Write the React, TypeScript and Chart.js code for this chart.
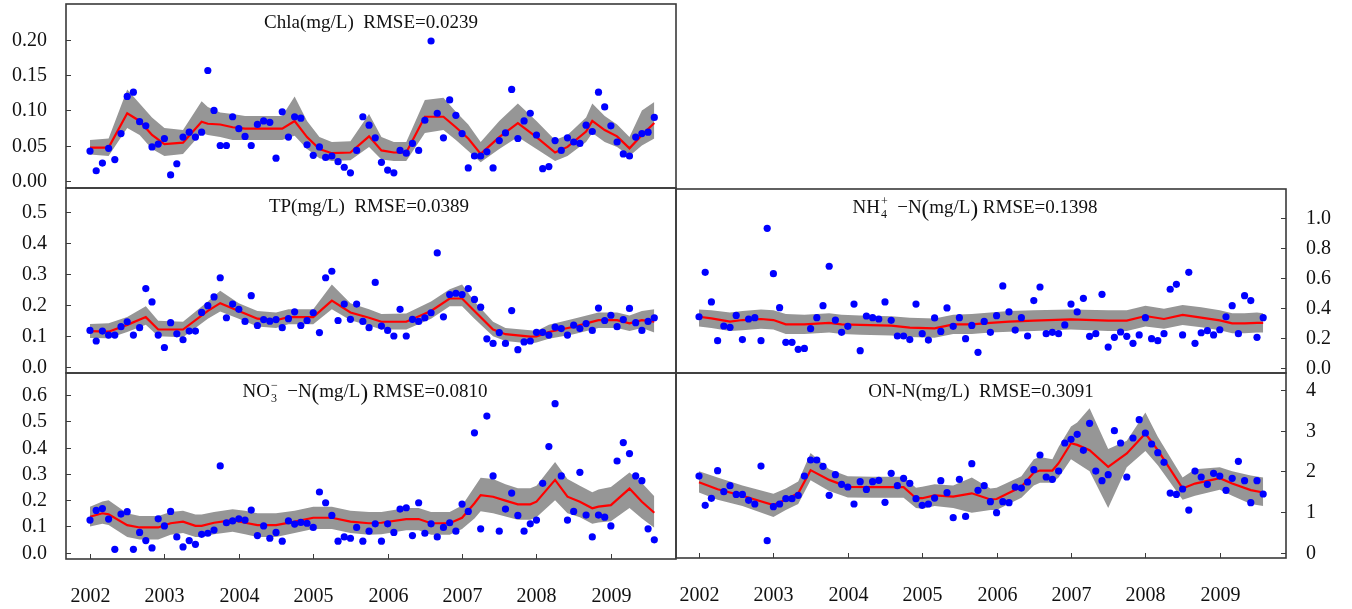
import React, { useEffect, useRef } from 'react';
import { Chart, registerables } from 'chart.js';

Chart.register(...registerables);

const W = 1352;
const H = 609;

// month index 0 = Jan 2002 ... 91 = Aug 2009
const MONTHS = [
  0, 1, 2, 3, 4, 5, 6, 7, 8, 9, 10, 11, 12, 13, 14, 15, 16, 17, 18, 19, 20, 21, 22, 23,
  24, 25, 26, 27, 28, 29, 30, 31, 32, 33, 34, 35, 36, 37, 38, 39, 40, 41, 42, 43, 44, 45, 46, 47,
  48, 49, 50, 51, 52, 53, 54, 55, 56, 57, 58, 59, 60, 61, 62, 63, 64, 65, 66, 67, 68, 69, 70, 71,
  72, 73, 74, 75, 76, 77, 78, 79, 80, 81, 82, 83, 84, 85, 86, 87, 88, 89, 90, 91,
];
const YEAR_LABELS = ['2002', '2003', '2004', '2005', '2006', '2007', '2008', '2009'];
const YEAR_MONTHS = [0, 12, 24, 36, 48, 60, 72, 84];

// ---------- Chla ----------
const CHLA_OBS = [
  0.042, 0.014, 0.025, 0.046, 0.030, 0.067, 0.120, 0.126, 0.084, 0.078, 0.048, 0.052,
  0.060, 0.008, 0.024, 0.062, 0.069, 0.062, 0.069, 0.157, 0.100, 0.050, 0.050, 0.091,
  0.074, 0.063, 0.050, 0.080, 0.085, 0.083, 0.032, 0.098, 0.062, 0.091, 0.089, 0.051,
  0.036, 0.048, 0.033, 0.035, 0.027, 0.019, 0.011, 0.043, 0.091, 0.079, 0.061, 0.026,
  0.015, 0.011, 0.043, 0.039, 0.053, 0.043, 0.086, 0.199, 0.096, 0.061, 0.115, 0.093,
  0.067, 0.018, 0.035, 0.035, 0.041, 0.018, 0.057, 0.068, 0.130, 0.060, 0.085, 0.096,
  0.065, 0.017, 0.020, 0.057, 0.043, 0.061, 0.055, 0.053, 0.079, 0.070, 0.126, 0.105,
  0.078, 0.055, 0.038, 0.035, 0.062, 0.067, 0.069, 0.090,
];
const CHLA_KNOTS = [0, 3, 6, 8, 10, 12, 15, 18, 19, 21, 23, 25, 31, 33, 35, 37, 39, 42, 45, 47, 49, 51, 54, 57, 59, 61, 63, 66, 69, 72, 75, 77, 80, 81, 83, 85, 87, 89, 91];
const CHLA_FIT = [0.047, 0.047, 0.096, 0.085, 0.065, 0.052, 0.054, 0.084, 0.081, 0.080, 0.076, 0.074, 0.074, 0.085, 0.062, 0.045, 0.039, 0.040, 0.063, 0.043, 0.040, 0.040, 0.091, 0.091, 0.076, 0.060, 0.038, 0.062, 0.082, 0.062, 0.040, 0.048, 0.070, 0.085, 0.072, 0.063, 0.046, 0.065, 0.082];
const CHLA_LO = [0.037, 0.035, 0.075, 0.065, 0.045, 0.035, 0.038, 0.068, 0.065, 0.062, 0.058, 0.058, 0.058, 0.064, 0.045, 0.032, 0.028, 0.029, 0.048, 0.030, 0.028, 0.028, 0.068, 0.072, 0.058, 0.042, 0.026, 0.045, 0.062, 0.045, 0.028, 0.035, 0.055, 0.068, 0.055, 0.048, 0.035, 0.050, 0.060];
const CHLA_HI = [0.058, 0.060, 0.130, 0.110, 0.090, 0.075, 0.072, 0.113, 0.105, 0.097, 0.095, 0.092, 0.092, 0.120, 0.085, 0.062, 0.055, 0.056, 0.095, 0.062, 0.055, 0.055, 0.115, 0.118, 0.098, 0.080, 0.055, 0.085, 0.110, 0.085, 0.058, 0.065, 0.090, 0.110, 0.092, 0.080, 0.062, 0.100, 0.112];
const CHLA_TICKS = [0, 0.05, 0.1, 0.15, 0.2];
const CHLA_TICK_LABELS = ['0.00', '0.05', '0.10', '0.15', '0.20'];

// ---------- TP ----------
const TP_OBS = [
  0.117, 0.083, 0.115, 0.102, 0.102, 0.129, 0.145, 0.102, 0.126, 0.252, 0.209, 0.102,
  0.062, 0.142, 0.106, 0.087, 0.115, 0.115, 0.175, 0.197, 0.225, 0.287, 0.158, 0.202,
  0.185, 0.146, 0.229, 0.133, 0.152, 0.147, 0.152, 0.126, 0.155, 0.177, 0.133, 0.149,
  0.174, 0.110, 0.287, 0.308, 0.149, 0.202, 0.153, 0.202, 0.146, 0.126, 0.272, 0.131,
  0.117, 0.099, 0.185, 0.099, 0.153, 0.146, 0.158, 0.174, 0.367, 0.161, 0.233, 0.237,
  0.233, 0.252, 0.217, 0.192, 0.090, 0.075, 0.110, 0.075, 0.181, 0.055, 0.080, 0.083,
  0.111, 0.111, 0.102, 0.128, 0.123, 0.102, 0.134, 0.123, 0.139, 0.117, 0.189, 0.149,
  0.166, 0.129, 0.152, 0.188, 0.142, 0.117, 0.146, 0.158,
];
const TP_KNOTS = [0, 3, 6, 9, 11, 15, 19, 21, 24, 27, 30, 32, 36, 39, 42, 45, 47, 51, 55, 58, 60, 62, 65, 67, 71, 72, 74, 78, 82, 85, 87, 89, 91];
const TP_FIT = [0.115, 0.113, 0.135, 0.160, 0.120, 0.120, 0.180, 0.205, 0.180, 0.155, 0.150, 0.160, 0.160, 0.213, 0.175, 0.158, 0.145, 0.145, 0.180, 0.220, 0.220, 0.180, 0.120, 0.105, 0.097, 0.098, 0.112, 0.129, 0.150, 0.150, 0.140, 0.150, 0.145];
const TP_LO = [0.093, 0.092, 0.112, 0.135, 0.098, 0.095, 0.155, 0.178, 0.155, 0.130, 0.125, 0.137, 0.137, 0.185, 0.150, 0.133, 0.120, 0.120, 0.155, 0.195, 0.195, 0.155, 0.098, 0.083, 0.075, 0.078, 0.090, 0.105, 0.125, 0.125, 0.115, 0.125, 0.110];
const TP_HI = [0.138, 0.140, 0.160, 0.195, 0.148, 0.145, 0.210, 0.245, 0.205, 0.180, 0.175, 0.185, 0.185, 0.265, 0.205, 0.185, 0.170, 0.172, 0.210, 0.250, 0.265, 0.210, 0.145, 0.125, 0.118, 0.115, 0.135, 0.155, 0.175, 0.175, 0.165, 0.180, 0.185];
const TP_TICKS = [0, 0.1, 0.2, 0.3, 0.4, 0.5];
const TP_TICK_LABELS = ['0.0', '0.1', '0.2', '0.3', '0.4', '0.5'];

// ---------- NH4+-N ----------
const NH4_OBS = [
  0.341, 0.638, 0.440, 0.181, 0.279, 0.270, 0.350, 0.188, 0.326, 0.335, 0.181, 0.933,
  0.629, 0.402, 0.170, 0.170, 0.123, 0.129, 0.261, 0.335, 0.415, 0.679, 0.319, 0.237,
  0.277, 0.426, 0.114, 0.346, 0.335, 0.326, 0.440, 0.317, 0.212, 0.212, 0.188, 0.426,
  0.228, 0.185, 0.333, 0.243, 0.400, 0.277, 0.335, 0.194, 0.283, 0.103, 0.310, 0.237,
  0.348, 0.547, 0.373, 0.252, 0.335, 0.212, 0.449, 0.540, 0.228, 0.237, 0.228, 0.286,
  0.426, 0.373, 0.464, 0.210, 0.228, 0.491, 0.138, 0.203, 0.239, 0.210, 0.163, 0.219,
  0.335, 0.194, 0.181, 0.228, 0.525, 0.558, 0.219, 0.638, 0.163, 0.234, 0.248, 0.219,
  0.254, 0.341, 0.415, 0.228, 0.482, 0.449, 0.203, 0.335,
];
const NH4_KNOTS = [0, 2, 5, 7, 10, 12, 14, 17, 21, 23, 26, 31, 34, 38, 41, 44, 47, 50, 54, 60, 66, 69, 72, 75, 78, 81, 84, 86, 88, 90, 91];
const NH4_FIT = [0.341, 0.330, 0.308, 0.319, 0.326, 0.319, 0.290, 0.290, 0.300, 0.290, 0.286, 0.281, 0.268, 0.263, 0.290, 0.290, 0.300, 0.308, 0.315, 0.324, 0.315, 0.315, 0.346, 0.326, 0.353, 0.335, 0.317, 0.297, 0.297, 0.300, 0.300];
const NH4_LO = [0.275, 0.265, 0.245, 0.250, 0.260, 0.255, 0.225, 0.225, 0.235, 0.225, 0.220, 0.215, 0.205, 0.200, 0.225, 0.225, 0.235, 0.240, 0.245, 0.255, 0.245, 0.245, 0.275, 0.260, 0.285, 0.270, 0.250, 0.230, 0.230, 0.235, 0.235];
const NH4_HI = [0.390, 0.385, 0.370, 0.380, 0.390, 0.385, 0.360, 0.355, 0.365, 0.355, 0.350, 0.345, 0.335, 0.330, 0.355, 0.360, 0.370, 0.380, 0.385, 0.390, 0.385, 0.385, 0.415, 0.395, 0.420, 0.405, 0.385, 0.365, 0.365, 0.370, 0.365];
const NH4_TICKS = [0, 0.2, 0.4, 0.6, 0.8, 1.0];
const NH4_TICK_LABELS = ['0.0', '0.2', '0.4', '0.6', '0.8', '1.0'];

// ---------- NO3--N ----------
const NO3_OBS = [
  0.124, 0.161, 0.168, 0.128, 0.013, 0.147, 0.156, 0.013, 0.077, 0.046, 0.018, 0.129,
  0.102, 0.157, 0.060, 0.022, 0.046, 0.032, 0.070, 0.074, 0.086, 0.330, 0.114, 0.121,
  0.129, 0.124, 0.162, 0.065, 0.102, 0.055, 0.077, 0.044, 0.121, 0.109, 0.115, 0.112,
  0.096, 0.231, 0.190, 0.142, 0.044, 0.060, 0.055, 0.096, 0.044, 0.082, 0.110, 0.044,
  0.110, 0.077, 0.166, 0.171, 0.065, 0.190, 0.074, 0.110, 0.060, 0.096, 0.114, 0.082,
  0.185, 0.157, 0.456, 0.091, 0.520, 0.292, 0.082, 0.166, 0.227, 0.142, 0.082, 0.110,
  0.124, 0.264, 0.404, 0.567, 0.292, 0.124, 0.157, 0.306, 0.143, 0.060, 0.143, 0.135,
  0.102, 0.349, 0.419, 0.377, 0.292, 0.274, 0.091, 0.049,
];
const NO3_KNOTS = [0, 2, 3, 6, 8, 11, 13, 15, 17, 18, 20, 23, 25, 27, 30, 33, 36, 39, 42, 45, 47, 51, 53, 55, 58, 60, 62, 63, 65, 67, 69, 71, 72, 75, 77, 79, 81, 82, 84, 87, 89, 91];
const NO3_FIT = [0.137, 0.150, 0.146, 0.105, 0.096, 0.096, 0.112, 0.118, 0.102, 0.102, 0.114, 0.124, 0.114, 0.105, 0.105, 0.118, 0.133, 0.133, 0.118, 0.112, 0.114, 0.128, 0.128, 0.112, 0.112, 0.133, 0.188, 0.219, 0.213, 0.198, 0.184, 0.184, 0.194, 0.277, 0.213, 0.194, 0.169, 0.175, 0.181, 0.244, 0.194, 0.152];
const NO3_LO = [0.100, 0.110, 0.105, 0.060, 0.050, 0.050, 0.068, 0.075, 0.060, 0.060, 0.070, 0.080, 0.070, 0.060, 0.060, 0.075, 0.090, 0.090, 0.075, 0.068, 0.070, 0.085, 0.085, 0.068, 0.068, 0.090, 0.130, 0.158, 0.150, 0.138, 0.125, 0.125, 0.135, 0.200, 0.150, 0.135, 0.110, 0.115, 0.120, 0.170, 0.130, 0.095];
const NO3_HI = [0.175, 0.195, 0.200, 0.150, 0.140, 0.140, 0.155, 0.160, 0.145, 0.145, 0.155, 0.165, 0.160, 0.150, 0.150, 0.160, 0.175, 0.175, 0.160, 0.155, 0.155, 0.170, 0.170, 0.155, 0.155, 0.180, 0.250, 0.285, 0.280, 0.260, 0.245, 0.245, 0.255, 0.345, 0.280, 0.255, 0.230, 0.240, 0.250, 0.305, 0.265, 0.215];
const NO3_TICKS = [0, 0.1, 0.2, 0.3, 0.4, 0.5, 0.6];
const NO3_TICK_LABELS = ['0.0', '0.1', '0.2', '0.3', '0.4', '0.5', '0.6'];

// ---------- ON-N ----------
const ON_OBS = [
  1.885, 1.164, 1.336, 2.016, 1.500, 1.648, 1.434, 1.434, 1.287, 1.197, 2.131, 0.295,
  1.131, 1.197, 1.328, 1.328, 1.410, 1.885, 2.279, 2.279, 2.123, 1.410, 1.918, 1.680,
  1.615, 1.197, 1.746, 1.557, 1.746, 1.779, 1.238, 1.951, 1.648, 1.828, 1.705, 1.328,
  1.164, 1.197, 1.344, 1.770, 1.475, 0.861, 1.803, 0.893, 2.189, 1.533, 1.648, 1.254,
  0.984, 1.254, 1.230, 1.615, 1.590, 1.738, 2.041, 2.402, 1.861, 1.803, 2.008, 2.697,
  2.787, 2.910, 2.516, 3.180, 2.008, 1.770, 1.918, 3.000, 2.697, 1.861, 2.820, 3.270,
  2.943, 2.672, 2.459, 2.221, 1.467, 1.434, 1.566, 1.049, 2.008, 1.861, 1.680, 1.951,
  1.885, 1.533, 1.828, 2.246, 1.770, 1.230, 1.770, 1.443,
];
const ON_KNOTS = [0, 3, 7, 12, 14, 16, 18, 21, 24, 28, 33, 35, 36, 38, 41, 44, 47, 48, 52, 54, 55, 57, 58, 60, 61, 63, 66, 69, 72, 74, 78, 80, 84, 86, 89, 91];
const ON_FIT = [1.73, 1.56, 1.40, 1.17, 1.31, 1.46, 2.03, 1.79, 1.62, 1.61, 1.61, 1.34, 1.34, 1.41, 1.38, 1.46, 1.31, 1.32, 1.62, 1.97, 2.02, 2.02, 2.20, 2.69, 2.65, 2.52, 2.11, 2.44, 2.93, 2.52, 1.58, 1.70, 1.83, 1.70, 1.54, 1.48];
const ON_LO = [1.48, 1.30, 1.15, 0.88, 1.05, 1.20, 1.78, 1.52, 1.36, 1.35, 1.35, 1.10, 1.08, 1.15, 1.10, 0.98, 1.05, 1.05, 1.35, 1.65, 1.72, 1.72, 1.85, 2.30, 2.20, 2.00, 1.10, 2.10, 2.50, 2.15, 1.30, 1.40, 1.55, 1.40, 1.20, 1.15];
const ON_HI = [2.00, 1.85, 1.65, 1.45, 1.58, 1.75, 2.45, 2.05, 1.88, 1.87, 1.87, 1.60, 1.62, 1.68, 1.65, 1.85, 1.58, 1.60, 1.88, 2.30, 2.35, 2.30, 2.60, 3.10, 3.20, 3.55, 2.55, 2.75, 3.45, 2.85, 1.85, 2.05, 2.10, 2.00, 1.90, 1.85];
const ON_TICKS = [0, 1, 2, 3, 4];
const ON_TICK_LABELS = ['0', '1', '2', '3', '4'];

type Seg = { t: string; kind: 'n' | 'p' | 'stack'; sub?: string };

const CHLA_TITLE: Seg[] = [{ t: 'Chla(mg/L)  RMSE=0.0239', kind: 'n' }];
const TP_TITLE: Seg[] = [{ t: 'TP(mg/L)  RMSE=0.0389', kind: 'n' }];
const NH4_TITLE: Seg[] = [
  { t: 'NH', kind: 'n' },
  { t: '+', kind: 'stack', sub: '4' },
  { t: '  \u2212N', kind: 'n' },
  { t: '(', kind: 'p' },
  { t: 'mg/L', kind: 'n' },
  { t: ')', kind: 'p' },
  { t: ' RMSE=0.1398', kind: 'n' },
];
const NO3_TITLE: Seg[] = [
  { t: 'NO', kind: 'n' },
  { t: '\u2212', kind: 'stack', sub: '3' },
  { t: '  \u2212N', kind: 'n' },
  { t: '(', kind: 'p' },
  { t: 'mg/L', kind: 'n' },
  { t: ')', kind: 'p' },
  { t: ' RMSE=0.0810', kind: 'n' },
];
const ON_TITLE: Seg[] = [{ t: 'ON-N(mg/L)  RMSE=0.3091', kind: 'n' }];

type PanelCfg = {
  box: { l: number; t: number; r: number; b: number };
  xMin: number;
  xMax: number;
  yMin: number;
  yMax: number;
  obs: number[];
  knots: number[];
  fit: number[];
  lo: number[];
  hi: number[];
  ticks: number[];
  tickLabels: string[];
  side: 'left' | 'right';
  title: Seg[];
  titleDx: number;
  xAxis: boolean;
};

const FONT = '"Liberation Serif", "Times New Roman", serif';

const PANELS: PanelCfg[] = [
  {
    box: { l: 66, t: 3, r: 676, b: 188 }, xMin: -3.87, xMax: 94.5, yMin: -0.0106, yMax: 0.2518,
    obs: CHLA_OBS, knots: CHLA_KNOTS, fit: CHLA_FIT, lo: CHLA_LO, hi: CHLA_HI,
    ticks: CHLA_TICKS, tickLabels: CHLA_TICK_LABELS, side: 'left', title: CHLA_TITLE, titleDx: 0, xAxis: false,
  },
  {
    box: { l: 66, t: 188, r: 676, b: 373 }, xMin: -3.87, xMax: 94.5, yMin: -0.0203, yMax: 0.5765,
    obs: TP_OBS, knots: TP_KNOTS, fit: TP_FIT, lo: TP_LO, hi: TP_HI,
    ticks: TP_TICKS, tickLabels: TP_TICK_LABELS, side: 'left', title: TP_TITLE, titleDx: -2, xAxis: false,
  },
  {
    box: { l: 66, t: 373, r: 676, b: 559 }, xMin: -3.87, xMax: 94.5, yMin: -0.024, yMax: 0.6838,
    obs: NO3_OBS, knots: NO3_KNOTS, fit: NO3_FIT, lo: NO3_LO, hi: NO3_HI,
    ticks: NO3_TICKS, tickLabels: NO3_TICK_LABELS, side: 'left', title: NO3_TITLE, titleDx: -6, xAxis: true,
  },
  {
    box: { l: 676, t: 189, r: 1286, b: 373 }, xMin: -3.71, xMax: 94.68, yMin: -0.0355, yMax: 1.196,
    obs: NH4_OBS, knots: NH4_KNOTS, fit: NH4_FIT, lo: NH4_LO, hi: NH4_HI,
    ticks: NH4_TICKS, tickLabels: NH4_TICK_LABELS, side: 'right', title: NH4_TITLE, titleDx: -6, xAxis: false,
  },
  {
    box: { l: 676, t: 373, r: 1286, b: 558 }, xMin: -3.71, xMax: 94.68, yMin: -0.13, yMax: 4.418,
    obs: ON_OBS, knots: ON_KNOTS, fit: ON_FIT, lo: ON_LO, hi: ON_HI,
    ticks: ON_TICKS, tickLabels: ON_TICK_LABELS, side: 'right', title: ON_TITLE, titleDx: 0, xAxis: true,
  },
];

function drawTitle(ctx: CanvasRenderingContext2D, segs: Seg[], cx: number, baseline: number) {
  const main = `19px ${FONT}`;
  const paren = `23px ${FONT}`;
  const small = `12px ${FONT}`;
  const widths = segs.map((s) => {
    if (s.kind === 'n') { ctx.font = main; return ctx.measureText(s.t).width; }
    if (s.kind === 'p') { ctx.font = paren; return ctx.measureText(s.t).width; }
    ctx.font = small;
    return Math.max(ctx.measureText(s.t).width, ctx.measureText(s.sub || '').width) + 1;
  });
  const total = widths.reduce((a, b) => a + b, 0);
  let x = cx - total / 2;
  ctx.textAlign = 'left';
  ctx.textBaseline = 'alphabetic';
  segs.forEach((s, i) => {
    if (s.kind === 'n') { ctx.font = main; ctx.fillText(s.t, x, baseline); }
    else if (s.kind === 'p') { ctx.font = paren; ctx.fillText(s.t, x, baseline + 3); }
    else {
      ctx.font = small;
      ctx.fillText(s.t, x + 1, baseline - 8);
      ctx.fillText(s.sub || '', x + 1, baseline + 5);
    }
    x += widths[i];
  });
}

function makeDecor(p: PanelCfg) {
  return {
    id: 'panelDecor',
    afterDraw(chart: any) {
      const { ctx, chartArea: a, scales } = chart;
      const ys = scales.y;
      const xs = scales.x;
      ctx.save();
      ctx.strokeStyle = '#3a3a3a';
      ctx.lineWidth = 1.6;
      ctx.strokeRect(a.left, a.top, a.right - a.left, a.bottom - a.top);
      ctx.fillStyle = '#111';
      ctx.font = `20px ${FONT}`;
      ctx.textBaseline = 'middle';
      p.ticks.forEach((v, i) => {
        const y = Math.round(ys.getPixelForValue(v)) + 0.5;
        ctx.beginPath();
        if (p.side === 'left') {
          ctx.moveTo(a.left, y);
          ctx.lineTo(a.left + 5, y);
        } else {
          ctx.moveTo(a.right, y);
          ctx.lineTo(a.right - 5, y);
        }
        ctx.lineWidth = 1;
        ctx.stroke();
        if (p.side === 'left') {
          ctx.textAlign = 'right';
          ctx.fillText(p.tickLabels[i], a.left - 19, y);
        } else {
          ctx.textAlign = 'left';
          ctx.fillText(p.tickLabels[i], a.right + 20, y);
        }
      });
      if (p.xAxis) {
        ctx.font = `20px ${FONT}`;
        ctx.textAlign = 'center';
        ctx.textBaseline = 'alphabetic';
        YEAR_MONTHS.forEach((m, i) => {
          const x = Math.round(xs.getPixelForValue(m)) + 0.5;
          ctx.beginPath();
          ctx.moveTo(x, a.bottom);
          ctx.lineTo(x, a.bottom - 5);
          ctx.lineWidth = 1;
          ctx.stroke();
          ctx.fillText(YEAR_LABELS[i], x, a.bottom + 43);
        });
      }
      drawTitle(ctx, p.title, (a.left + a.right) / 2 + p.titleDx, a.top + 24);
      ctx.restore();
    },
  };
}

function buildChart(canvas: HTMLCanvasElement, p: PanelCfg) {
  const pts = (xs: number[], ys: number[]) => xs.map((x, i) => ({ x, y: ys[i] }));
  return new Chart(canvas, {
    type: 'line',
    data: {
      datasets: [
        {
          data: pts(MONTHS, p.obs),
          showLine: false,
          pointRadius: 3.6,
          pointBackgroundColor: '#0000ff',
          pointBorderWidth: 0,
          borderColor: '#0000ff',
          order: 0,
        },
        {
          data: pts(p.knots, p.fit),
          borderColor: '#ff0000',
          borderWidth: 2.2,
          pointRadius: 0,
          tension: 0,
          fill: false,
          order: 1,
        },
        {
          data: pts(p.knots, p.hi),
          borderColor: 'rgba(0,0,0,0)',
          borderWidth: 0,
          backgroundColor: 'rgb(150,150,150)',
          pointRadius: 0,
          tension: 0,
          fill: '+1',
          order: 2,
        },
        {
          data: pts(p.knots, p.lo),
          borderColor: 'rgba(0,0,0,0)',
          borderWidth: 0,
          pointRadius: 0,
          tension: 0,
          fill: false,
          order: 3,
        },
      ] as any,
    },
    options: {
      animation: false,
      responsive: false,
      events: [],
      layout: { padding: { left: p.box.l, top: p.box.t, right: W - p.box.r, bottom: H - p.box.b } },
      plugins: { legend: { display: false }, tooltip: { enabled: false }, title: { display: false } },
      scales: {
        x: { type: 'linear', display: false, min: p.xMin, max: p.xMax },
        y: { type: 'linear', display: false, min: p.yMin, max: p.yMax },
      },
    },
    plugins: [makeDecor(p)],
  } as any);
}

export default function App() {
  const refs = useRef<(HTMLCanvasElement | null)[]>([]);
  useEffect(() => {
    const charts = PANELS.map((p, i) => buildChart(refs.current[i] as HTMLCanvasElement, p));
    return () => charts.forEach((c) => c.destroy());
  }, []);
  return (
    <div style={{ position: 'absolute', left: 0, top: 0, width: W, height: H, background: '#fff' }}>
      {PANELS.map((_, i) => (
        <canvas
          key={i}
          ref={(el) => { refs.current[i] = el; }}
          width={W}
          height={H}
          style={{ position: 'absolute', left: 0, top: 0, width: W, height: H }}
        />
      ))}
    </div>
  );
}
